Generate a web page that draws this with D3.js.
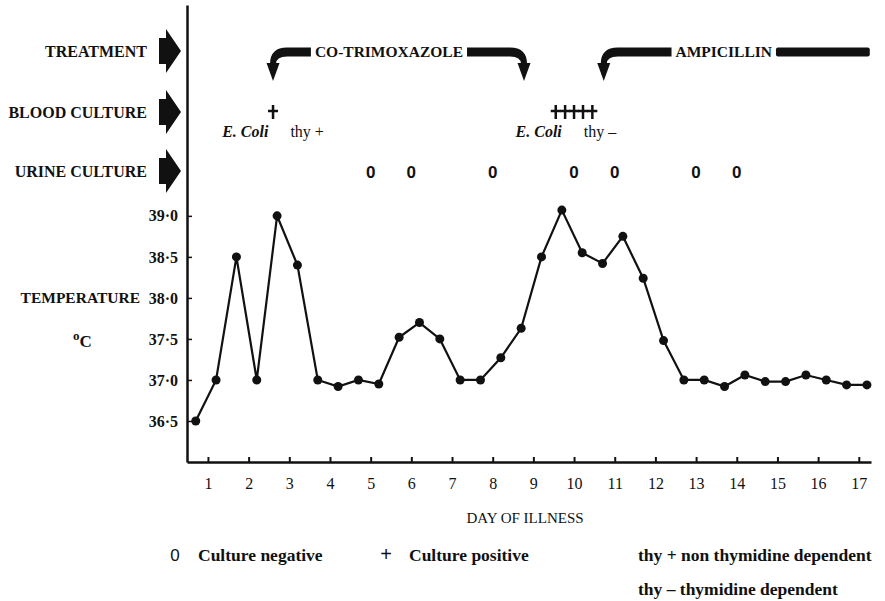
<!DOCTYPE html>
<html>
<head>
<meta charset="utf-8">
<script src="https://cdn.jsdelivr.net/npm/d3@7"></script>
<style>
  body { margin: 0; background: #fff; }
  text { font-family: "Liberation Serif", "Times New Roman", serif; fill: #111; }
</style>
</head>
<body>
<div id="chart"></div>
<script>
// temperature readings, twice a day
var days = [0.7, 1.2, 1.7, 2.2, 2.7, 3.2, 3.7, 4.2, 4.7, 5.2, 5.7, 6.2, 6.7, 7.2, 7.7, 8.2, 8.7,
            9.2, 9.7, 10.2, 10.7, 11.2, 11.7, 12.2, 12.7, 13.2, 13.7, 14.2, 14.7, 15.2, 15.7, 16.2, 16.7, 17.2];
var temps = [36.5, 37.0, 38.5, 37.0, 39.0, 38.4, 37.0, 36.92, 37.0, 36.95, 37.52, 37.7, 37.5, 37.0, 37.0, 37.27, 37.63,
             38.5, 39.07, 38.55, 38.42, 38.75, 38.24, 37.48, 37.0, 37.0, 36.92, 37.06, 36.98, 36.98, 37.06, 37.0, 36.94, 36.94];

// treatment periods (days)
var treatmentNames = ["CO-TRIMOXAZOLE", "AMPICILLIN"];
var treatmentStart = [2.6, 10.73];
var treatmentEnd = [8.77, 17.27];
var treatmentEndArrow = [true, false];
var treatmentLabelDay = [5.45, 13.68];

// cultures
var bloodPositiveDays = [2.6, 9.55, 9.78, 10.0, 10.22, 10.45];
var isolateDays = [2.6, 9.8];
var isolateThy = ["thy +", "thy \u2013"];
var urineNegativeDays = [5, 6, 8, 10, 11, 13, 14];

// axes
var xTicks = [1, 2, 3, 4, 5, 6, 7, 8, 9, 10, 11, 12, 13, 14, 15, 16, 17];
var yTicks = [36.5, 37.0, 37.5, 38.0, 38.5, 39.0];
var rowLabels = ["TREATMENT", "BLOOD CULTURE", "URINE CULTURE"];
var legendSymbols = ["0", "+"];
var legendLabels = ["Culture negative", "Culture positive"];
var thyNotes = ["thy + non thymidine dependent", "thy \u2013 thymidine dependent"];

var width = 885, height = 601;
var ink = "#111";

var svg = d3.select("#chart").append("svg")
  .attr("width", width)
  .attr("height", height);

var x = d3.scaleLinear().domain([0.485, 17.3]).range([187, 871]);
var y = d3.scaleLinear().domain([36, 41.57]).range([462, 5]);

// row labels with block arrows
var rowY = [51, 112, 171];
rowLabels.forEach(function(lab, i) {
  var cy = rowY[i];
  svg.append("text")
    .attr("x", 147).attr("y", cy).attr("dy", "0.35em")
    .attr("text-anchor", "end")
    .attr("font-weight", "bold")
    .attr("font-size", 16)
    .text(lab);
  svg.append("path")
    .attr("d", "M159," + (cy - 13) + "L166," + (cy - 13) + "L166," + (cy - 22) + "L181," + cy +
               "L166," + (cy + 22) + "L166," + (cy + 13) + "L159," + (cy + 13) + "Z")
    .attr("fill", ink);
});

// axes
var xAxis = d3.axisBottom(x).tickValues(xTicks).tickSizeInner(-5).tickSizeOuter(0).tickPadding(16);
var gx = svg.append("g").attr("transform", "translate(0,462)").call(xAxis);
gx.select(".domain").attr("stroke", ink).attr("stroke-width", 2.5);
gx.selectAll(".tick line").attr("stroke", ink).attr("stroke-width", 2);
gx.selectAll(".tick text")
  .attr("font-family", "Liberation Serif")
  .attr("font-size", 16)
  .attr("fill", ink);

var yAxis = d3.axisLeft(y).tickValues(yTicks).tickSizeInner(-5).tickSizeOuter(0).tickPadding(9)
  .tickFormat(function(d) { return d3.format(".1f")(d).replace(".", "\u00b7"); });
var gy = svg.append("g").attr("transform", "translate(187,0)").call(yAxis);
gy.select(".domain").attr("stroke", ink).attr("stroke-width", 2.5);
gy.selectAll(".tick line").attr("stroke", ink).attr("stroke-width", 1.5);
gy.selectAll(".tick text")
  .attr("font-family", "Liberation Serif")
  .attr("font-weight", "bold")
  .attr("font-size", 16)
  .attr("fill", ink);

// axis titles
svg.append("text")
  .attr("x", 140).attr("y", y(38.0)).attr("dy", "0.35em")
  .attr("text-anchor", "end")
  .attr("font-weight", "bold").attr("font-size", 15.5)
  .text("TEMPERATURE");
svg.append("text")
  .attr("x", 73).attr("y", y(37.5) + 8)
  .attr("font-weight", "bold").attr("font-size", 17)
  .html('<tspan font-size="13" dy="-7">o</tspan><tspan dy="7">C</tspan>');
svg.append("text")
  .attr("x", 525).attr("y", 523)
  .attr("text-anchor", "middle")
  .attr("font-size", 15)
  .text("DAY OF ILLNESS");

// temperature line
var line = d3.line()
  .x(function(d, i) { return x(days[i]); })
  .y(function(d) { return y(d); });
svg.append("path")
  .datum(temps)
  .attr("d", line)
  .attr("fill", "none")
  .attr("stroke", ink)
  .attr("stroke-width", 2.2);
svg.selectAll(".pt")
  .data(temps)
  .enter().append("circle")
  .attr("class", "pt")
  .attr("cx", function(d, i) { return x(days[i]); })
  .attr("cy", function(d) { return y(d); })
  .attr("r", 4.5)
  .attr("fill", ink);

// treatment hooks
var barY = 52, barH = 9, headTop = 64, headTip = 81;
treatmentNames.forEach(function(name, i) {
  var x0 = x(treatmentStart[i]), x1 = x(treatmentEnd[i]), xc = x(treatmentLabelDay[i]);
  var label = svg.append("text")
    .attr("x", xc).attr("y", barY).attr("dy", "0.35em")
    .attr("text-anchor", "middle")
    .attr("font-weight", "bold").attr("font-size", 15.5)
    .text(name);
  var w = label.node().getComputedTextLength();
  var tl = xc - w / 2 - 4, tr = xc + w / 2 + 4;
  var t = barY - barH / 2, b = barY + barH / 2;

  // left hook down to arrow head
  svg.append("path")
    .attr("d", "M" + tl + "," + t + "L" + (x0 + 14) + "," + t +
               "Q" + (x0 - 3) + "," + t + " " + (x0 - 3) + "," + headTop +
               "L" + (x0 + 3) + "," + headTop +
               "Q" + (x0 + 3) + "," + b + " " + (x0 + 14) + "," + b +
               "L" + tl + "," + b + "Z")
    .attr("fill", ink);
  svg.append("path")
    .attr("d", "M" + (x0 - 6.5) + "," + (headTop - 1) + "L" + (x0 + 6.5) + "," + (headTop - 1) + "L" + x0 + "," + headTip + "Z")
    .attr("fill", ink);

  if (treatmentEndArrow[i]) {
    svg.append("path")
      .attr("d", "M" + tr + "," + t + "L" + (x1 - 14) + "," + t +
                 "Q" + (x1 + 3) + "," + t + " " + (x1 + 3) + "," + headTop +
                 "L" + (x1 - 3) + "," + headTop +
                 "Q" + (x1 - 3) + "," + b + " " + (x1 - 14) + "," + b +
                 "L" + tr + "," + b + "Z")
      .attr("fill", ink);
    svg.append("path")
      .attr("d", "M" + (x1 - 6.5) + "," + (headTop - 1) + "L" + (x1 + 6.5) + "," + (headTop - 1) + "L" + x1 + "," + headTip + "Z")
      .attr("fill", ink);
  } else {
    svg.append("rect")
      .attr("x", tr).attr("y", t)
      .attr("width", x1 - tr).attr("height", barH)
      .attr("rx", 2)
      .attr("fill", ink);
  }
});

// blood culture positives
bloodPositiveDays.forEach(function(d) {
  var cx = x(d), cy = 112;
  svg.append("path")
    .attr("d", "M" + cx + "," + (cy - 7) + "V" + (cy + 7) + "M" + (cx - 5) + "," + (cy - 1) + "H" + (cx + 5))
    .attr("stroke", ink).attr("stroke-width", 2.5).attr("fill", "none");
});
isolateDays.forEach(function(d, i) {
  svg.append("text")
    .attr("x", x(d)).attr("y", 137)
    .attr("text-anchor", "middle")
    .attr("font-size", 16)
    .html('<tspan font-style="italic" font-weight="bold">E. Coli</tspan><tspan dx="22">' + isolateThy[i] + '</tspan>');
});

// urine culture negatives
svg.selectAll(".neg")
  .data(urineNegativeDays)
  .enter().append("text")
  .attr("class", "neg")
  .attr("x", function(d) { return x(d); })
  .attr("y", 172).attr("dy", "0.36em")
  .attr("text-anchor", "middle")
  .style("font-family", "'Liberation Sans', Arial, sans-serif")
  .attr("font-weight", "bold")
  .attr("font-size", 17)
  .text("0");

// legend
var legX = [175, 386];
legendSymbols.forEach(function(s, i) {
  svg.append("text")
    .attr("x", legX[i]).attr("y", 561)
    .attr("text-anchor", "middle")
    .style("font-family", "'Liberation Sans', Arial, sans-serif")
    .attr("font-size", s === "+" ? 20 : 17)
    .text(s);
  svg.append("text")
    .attr("x", legX[i] + 23).attr("y", 561)
    .attr("font-weight", "bold").attr("font-size", 17.5)
    .text(legendLabels[i]);
});
thyNotes.forEach(function(s, i) {
  svg.append("text")
    .attr("x", 638).attr("y", 561 + i * 34)
    .attr("font-weight", "bold").attr("font-size", 17.5)
    .text(s);
});
</script>
</body>
</html>
